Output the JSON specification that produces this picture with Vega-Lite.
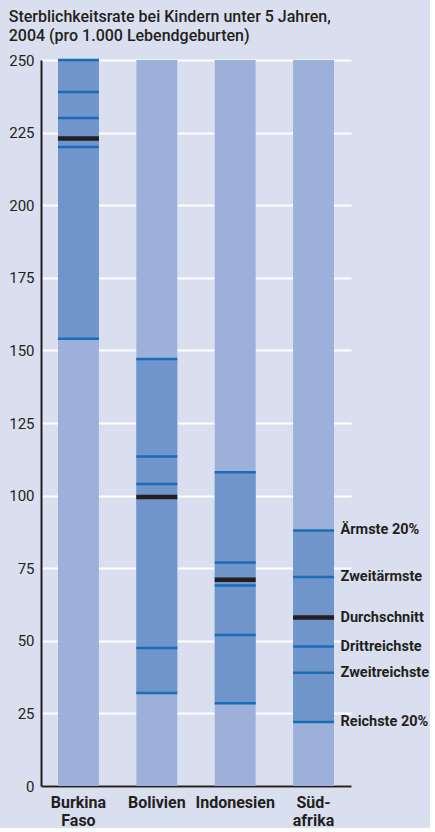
{
  "$schema": "https://vega.github.io/schema/vega-lite/v6.json",
  "background": "#d9dfef",
  "padding": {"left": 8, "top": 9, "right": 0, "bottom": 0},
  "width": 310,
  "height": 726,
  "title": {
    "text": ["Sterblichkeitsrate bei Kindern unter 5 Jahren,", "2004 (pro 1.000 Lebendgeburten)"],
    "anchor": "start",
    "frame": "bounds",
    "font": "Roboto",
    "fontSize": 16,
    "fontWeight": 500,
    "color": "#231f20",
    "lineHeight": 19,
    "offset": 9
  },
  "data": {
    "values": [
      {"country": "Burkina Faso", "group": "Ärmste 20%", "value": 250},
      {"country": "Burkina Faso", "group": "Zweitärmste", "value": 239},
      {"country": "Burkina Faso", "group": "Drittreichste", "value": 230},
      {"country": "Burkina Faso", "group": "Zweitreichste", "value": 220},
      {"country": "Burkina Faso", "group": "Reichste 20%", "value": 154},
      {"country": "Burkina Faso", "group": "Durchschnitt", "value": 223},
      {"country": "Bolivien", "group": "Ärmste 20%", "value": 147},
      {"country": "Bolivien", "group": "Zweitärmste", "value": 113.5},
      {"country": "Bolivien", "group": "Drittreichste", "value": 104},
      {"country": "Bolivien", "group": "Zweitreichste", "value": 47.5},
      {"country": "Bolivien", "group": "Reichste 20%", "value": 32},
      {"country": "Bolivien", "group": "Durchschnitt", "value": 99.5},
      {"country": "Indonesien", "group": "Ärmste 20%", "value": 108},
      {"country": "Indonesien", "group": "Zweitärmste", "value": 77},
      {"country": "Indonesien", "group": "Drittreichste", "value": 69},
      {"country": "Indonesien", "group": "Zweitreichste", "value": 52},
      {"country": "Indonesien", "group": "Reichste 20%", "value": 28.5},
      {"country": "Indonesien", "group": "Durchschnitt", "value": 71},
      {"country": "Südafrika", "group": "Ärmste 20%", "value": 88},
      {"country": "Südafrika", "group": "Zweitärmste", "value": 72},
      {"country": "Südafrika", "group": "Drittreichste", "value": 48},
      {"country": "Südafrika", "group": "Zweitreichste", "value": 39},
      {"country": "Südafrika", "group": "Reichste 20%", "value": 22},
      {"country": "Südafrika", "group": "Durchschnitt", "value": 58}
    ]
  },
  "encoding": {
    "x": {
      "field": "country",
      "type": "nominal",
      "sort": ["Burkina Faso", "Bolivien", "Indonesien", "Südafrika"],
      "scale": {"paddingInner": 0.478, "paddingOuter": 0.217},
      "axis": {
        "title": null,
        "labelAngle": 0,
        "ticks": false,
        "domainColor": "#231f20",
        "domainWidth": 2,
        "labelFont": "Roboto",
        "labelFontWeight": "bold",
        "labelFontSize": 16,
        "labelColor": "#231f20",
        "labelPadding": 8,
        "labelLineHeight": 18,
        "labelExpr": "datum.value == 'Burkina Faso' ? ['Burkina', 'Faso'] : datum.value == 'Südafrika' ? ['Süd-', 'afrika'] : datum.value"
      }
    }
  },
  "layer": [
    {
      "transform": [{"filter": "datum.group == 'Durchschnitt'"}],
      "mark": {"type": "bar", "color": "#9db0da"},
      "encoding": {
        "y": {
          "datum": 0,
          "type": "quantitative",
          "scale": {"domain": [0, 250], "nice": false},
          "axis": {
            "title": null,
            "values": [0, 25, 50, 75, 100, 125, 150, 175, 200, 225, 250],
            "grid": true,
            "gridColor": "#ffffff",
            "gridWidth": 2,
            "ticks": false,
            "domainColor": "#231f20",
            "domainWidth": 2,
            "labelFont": "Roboto",
            "labelFontSize": 15,
            "labelColor": "#231f20",
            "labelPadding": 7
          }
        },
        "y2": {"datum": 250}
      }
    },
    {
      "transform": [{"filter": "datum.group != 'Durchschnitt'"}],
      "mark": {"type": "bar", "color": "#7095cb"},
      "encoding": {
        "y": {"aggregate": "min", "field": "value", "type": "quantitative"},
        "y2": {"aggregate": "max", "field": "value"}
      }
    },
    {
      "transform": [{"filter": "datum.group != 'Durchschnitt'"}],
      "mark": {"type": "tick", "color": "#1a6cb6", "thickness": 2.5, "size": 41, "opacity": 1},
      "encoding": {
        "y": {"field": "value", "type": "quantitative"}
      }
    },
    {
      "transform": [{"filter": "datum.group == 'Durchschnitt'"}],
      "mark": {"type": "tick", "color": "#231f20", "thickness": 4.5, "size": 41, "opacity": 1},
      "encoding": {
        "y": {"field": "value", "type": "quantitative"}
      }
    },
    {
      "transform": [{"filter": "datum.country == 'Südafrika'"}],
      "mark": {
        "type": "text",
        "align": "left",
        "baseline": "middle",
        "dx": 27,
        "font": "Roboto",
        "fontSize": 14.5,
        "fontWeight": "bold",
        "color": "#231f20"
      },
      "encoding": {
        "y": {"field": "value", "type": "quantitative"},
        "text": {"field": "group", "type": "nominal"}
      }
    }
  ],
  "config": {
    "view": {"stroke": null}
  }
}
